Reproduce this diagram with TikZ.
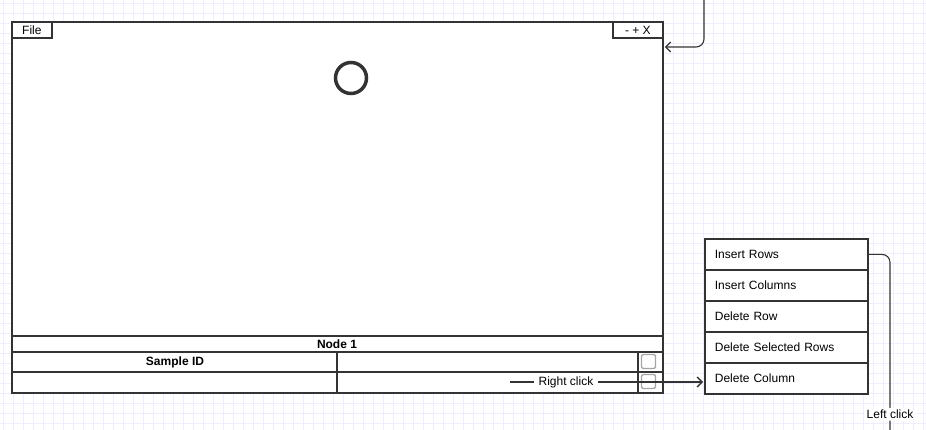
\documentclass[tikz,border=0pt]{standalone}
\usepackage{fontspec}
\setmainfont{Liberation Sans}
\usetikzlibrary{arrows.meta}
\definecolor{gridc}{RGB}{238,238,252}
\definecolor{ink}{RGB}{51,51,51}
\definecolor{chkc}{RGB}{165,165,165}
\begin{document}
\begin{tikzpicture}[x=1pt,y=-1pt,
  box/.style={draw=ink, line width=1.8pt, inner sep=0pt, anchor=north west, fill=white},
  tab/.style={draw=ink, line width=1.8pt, inner sep=0pt, anchor=north west, font=\fontsize{12}{14}\selectfont},
  menuitem/.style={draw=ink, line width=1.8pt, anchor=north west, fill=white,
    minimum width=163pt, minimum height=31pt, text width=143pt, inner xsep=10pt, inner ysep=0pt,
    align=left, font=\fontsize{12}{14}\selectfont},
  chk/.style={draw=chkc, line width=1.3pt, rounded corners=2pt, minimum size=14pt, inner sep=0pt},
  conn/.style={draw=ink, line width=1.1pt},
  tip/.style={-{Straight Barb[length=5pt,width=10pt,line width=1.3pt]}},
  lbl/.style={fill=white, inner xsep=5pt, inner ysep=2pt, font=\fontsize{12}{14}\selectfont},
  bold/.style={font=\bfseries\fontsize{12}{14}\selectfont, inner sep=0pt}
]
\useasboundingbox (0,0) rectangle (926,430);
\fill[white] (0,0) rectangle (926,430);
\foreach \x in {3,13,...,923} \draw[gridc, line width=0.8pt] (\x,0) -- (\x,430);
\foreach \y in {3,13,...,423} \draw[gridc, line width=0.8pt] (0,\y) -- (926,\y);

% main window
\node[box, minimum width=651pt, minimum height=371pt] (win) at (11,21) {};
\node[tab, minimum width=40pt, minimum height=16pt] (file) at (11,21) {File};
\node[tab, minimum width=50pt, minimum height=16pt] (ctrl) at (612,21) {- + X};
\node[draw=ink, line width=3.5pt, circle, minimum size=31pt, inner sep=0pt] (circ) at (351,78) {};

% table rows
\draw[ink, line width=1.8pt] (11,336) -- (662,336);
\draw[ink, line width=1.8pt] (11,352) -- (662,352);
\draw[ink, line width=1.8pt] (11,372) -- (662,372);
\draw[ink, line width=1.8pt] (337,352) -- (337,392);
\draw[ink, line width=1.8pt] (638,352) -- (638,392);
\node[bold] (node1) at (337,344) {Node 1};
\node[bold] (sid) at (175,362) {Sample ID};
\node[chk] (c1) at (648.5,361.5) {};
\node[chk] (c2) at (648.5,381.5) {};

% menu
\node[menuitem] (m1) at (704,238) {Insert Rows};
\node[menuitem] (m2) at (704,269) {Insert Columns};
\node[menuitem] (m3) at (704,300) {Delete Row};
\node[menuitem] (m4) at (704,331) {Delete Selected Rows};
\node[menuitem] (m5) at (704,362) {Delete Column};

% connectors
\coordinate (tA) at (704,0);
\coordinate (tY) at (704,47);
\draw[conn, tip, rounded corners=8pt] (tA) |- ([xshift=1pt]win.east |- tY);

\coordinate (rc) at (510,382);
\draw[conn, tip] (rc) -- node[lbl, pos=0.29] {Right click} ([xshift=-1pt]m5.west |- rc);

\coordinate (lc) at (890,430);
\draw[conn, rounded corners=8pt] (m1.east) -| node[lbl, pos=0.955, inner xsep=2pt] {Left click} (lc);
\end{tikzpicture}
\end{document}
